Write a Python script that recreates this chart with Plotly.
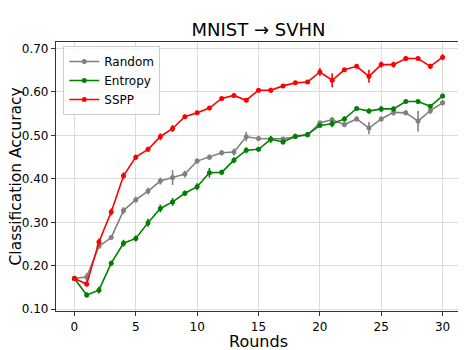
import plotly.graph_objects as go

rounds = list(range(31))

random_acc = [0.171, 0.174, 0.245, 0.265, 0.327, 0.352, 0.372, 0.395, 0.403, 0.411,
              0.441, 0.450, 0.460, 0.462, 0.497, 0.493, 0.492, 0.492, 0.497, 0.501,
              0.529, 0.536, 0.525, 0.538, 0.517, 0.538, 0.553, 0.552, 0.533, 0.557, 0.575]
random_err = [0.004, 0.010, 0.006, 0.005, 0.008, 0.007, 0.008, 0.008, 0.017, 0.008,
              0.006, 0.006, 0.006, 0.008, 0.011, 0.006, 0.004, 0.004, 0.004, 0.004,
              0.004, 0.006, 0.006, 0.006, 0.014, 0.006, 0.008, 0.006, 0.024, 0.008, 0.006]

entropy_acc = [0.171, 0.133, 0.144, 0.206, 0.252, 0.263, 0.299, 0.332, 0.347, 0.367,
               0.382, 0.414, 0.415, 0.443, 0.466, 0.468, 0.491, 0.485, 0.498, 0.502,
               0.523, 0.527, 0.538, 0.562, 0.556, 0.561, 0.561, 0.578, 0.578, 0.567, 0.591]
entropy_err = [0.004, 0.006, 0.008, 0.006, 0.008, 0.007, 0.009, 0.009, 0.009, 0.006,
               0.008, 0.011, 0.006, 0.007, 0.007, 0.005, 0.008, 0.006, 0.006, 0.005,
               0.004, 0.008, 0.006, 0.004, 0.006, 0.007, 0.006, 0.004, 0.004, 0.004, 0.005]

sspp_acc = [0.171, 0.158, 0.255, 0.324, 0.407, 0.450, 0.468, 0.497, 0.516, 0.543,
            0.552, 0.563, 0.585, 0.592, 0.581, 0.604, 0.604, 0.614, 0.621, 0.623,
            0.646, 0.627, 0.651, 0.659, 0.636, 0.663, 0.663, 0.677, 0.677, 0.659, 0.680]
sspp_err = [0.006, 0.006, 0.008, 0.008, 0.008, 0.006, 0.006, 0.008, 0.008, 0.005,
            0.005, 0.005, 0.004, 0.004, 0.005, 0.004, 0.006, 0.004, 0.004, 0.004,
            0.009, 0.016, 0.004, 0.004, 0.015, 0.007, 0.007, 0.006, 0.004, 0.006, 0.007]

series = [
    ('Random', random_acc, random_err, 'gray'),
    ('Entropy', entropy_acc, entropy_err, 'green'),
    ('SSPP', sspp_acc, sspp_err, 'red'),
]

_font = 'DejaVu Sans'

fig = go.Figure()

for name, acc, err, color in series:
    fig.add_trace(go.Scatter(
        x=rounds,
        y=acc,
        name=name,
        mode='lines+markers',
        line=dict(color=color, width=1.6),
        marker=dict(color=color, size=5),
        error_y=dict(type='data', array=err, visible=True,
                     color=color, thickness=1.6, width=0),
    ))

axis_style = dict(
    showgrid=True,
    gridcolor='#dcdcdc',
    gridwidth=1,
    zeroline=False,
    showline=True,
    linecolor='#333333',
    linewidth=1.2,
    mirror=True,
    ticks='outside',
    ticklen=4,
    tickcolor='#333333',
    tickfont=dict(family=_font, size=12, color='black'),
    automargin=False,
)

# page body has an 8px margin, so the figure is a bit smaller than the window
fig.update_layout(
    width=458,
    height=342,
    margin=dict(l=48, r=5, t=34, b=39),
    paper_bgcolor='white',
    plot_bgcolor='white',
    font=dict(family=_font, color='black'),
    title=dict(
        text='MNIST \u2192 SVHN',
        font=dict(family=_font, size=18),
        x=0.547,
        xanchor='center',
        y=0.936,
        yanchor='middle',
    ),
    xaxis=dict(
        axis_style,
        range=[-1.5, 31.5],
        tickvals=[0, 5, 10, 15, 20, 25, 30],
    ),
    yaxis=dict(
        axis_style,
        range=[0.096, 0.715],
        tickvals=[0.1, 0.2, 0.3, 0.4, 0.5, 0.6, 0.7],
        tickformat='.2f',
    ),
    annotations=[
        dict(
            text='Rounds',
            xref='paper', yref='paper',
            x=0.5, y=-0.112,
            xanchor='center', yanchor='middle',
            showarrow=False,
            font=dict(family=_font, size=16),
        ),
        dict(
            text='Classification Accuracy',
            xref='paper', yref='paper',
            x=-51 / 405, y=0.5,
            xanchor='left', yanchor='middle',
            textangle=-90,
            showarrow=False,
            borderpad=0,
            font=dict(family=_font, size=15.5),
        ),
    ],
    legend=dict(
        x=0.018,
        y=0.985,
        xanchor='left',
        yanchor='top',
        bgcolor='rgba(255,255,255,0.8)',
        bordercolor='#cccccc',
        borderwidth=1,
        font=dict(family=_font, size=12),
        tracegroupgap=0,
    ),
    showlegend=True,
)

fig.write_html("out.html")
